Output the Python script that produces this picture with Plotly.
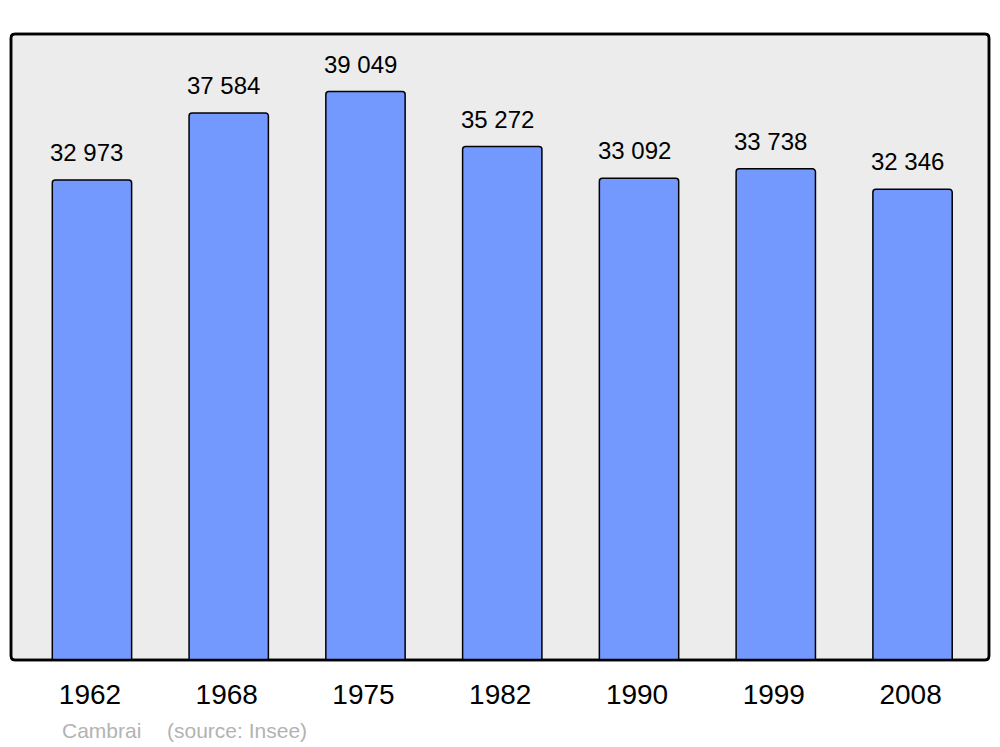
import plotly.graph_objects as go

years = ["1962", "1968", "1975", "1982", "1990", "1999", "2008"]
population = [32973, 37584, 39049, 35272, 33092, 33738, 32346]
labels = ["32 973", "37 584", "39 049", "35 272", "33 092", "33 738", "32 346"]

W, H = 1000, 747
ml, mr, mt, mb = 11, 11, 34, 87
pw, ph = W - ml - mr, H - mt - mb

xpos = list(range(len(years)))

fig = go.Figure()
fig.add_trace(go.Bar(
    x=xpos, y=population, width=0.58,
    marker=dict(color="#7399ff", line=dict(color="black", width=1.5), cornerradius=3),
    hoverinfo="skip", showlegend=False,
))

for xi, yi, lab in zip(xpos, population, labels):
    fig.add_annotation(x=xi, y=yi, text=lab, showarrow=False, yanchor="bottom",
                       yshift=12, xshift=-5,
                       font=dict(size=24, color="black", family="Liberation Sans"))

# rounded frame
r = 4
rx, ry = r / pw, r / ph
path = (f"M {rx},0 L {1-rx},0 Q 1,0 1,{ry} L 1,{1-ry} Q 1,1 {1-rx},1 "
        f"L {rx},1 Q 0,1 0,{1-ry} L 0,{ry} Q 0,0 {rx},0 Z")
fig.add_shape(type="path", path=path, xref="paper", yref="paper",
              fillcolor="#ececec", line=dict(color="black", width=2.5), layer="below")
fig.add_shape(type="path", path=path, xref="paper", yref="paper",
              fillcolor="rgba(0,0,0,0)", line=dict(color="black", width=2.5), layer="above")

fig.add_annotation(x=(60 - ml) / pw, y=(660 - 730) / ph, xref="paper", yref="paper",
                   text="Cambrai", showarrow=False, xanchor="left", yanchor="middle",
                   font=dict(size=21, color="#b3b3b3", family="Liberation Sans"))
fig.add_annotation(x=(165 - ml) / pw, y=(660 - 730) / ph, xref="paper", yref="paper",
                   text="(source: Insee)", showarrow=False, xanchor="left", yanchor="middle",
                   font=dict(size=21, color="#b3b3b3", family="Liberation Sans"))

fig.update_layout(
    width=W, height=H,
    margin=dict(l=ml, r=mr, t=mt, b=mb),
    paper_bgcolor="white", plot_bgcolor="rgba(0,0,0,0)",
    font=dict(family="Liberation Sans", color="black"),
    xaxis=dict(range=[-0.592, 6.559], tickmode="array", tickvals=xpos, ticktext=years,
               tickfont=dict(size=28, color="black"), showgrid=False, zeroline=False,
               ticks="outside", ticklen=9, tickcolor="rgba(0,0,0,0)", showline=False,
               ticklabelshift=-2),
    yaxis=dict(range=[0, 43003], visible=False, showgrid=False, zeroline=False),
)

fig.write_html("out.html", config={"displayModeBar": False},
               post_script="document.body.style.margin='0';document.body.style.overflow='hidden';")
